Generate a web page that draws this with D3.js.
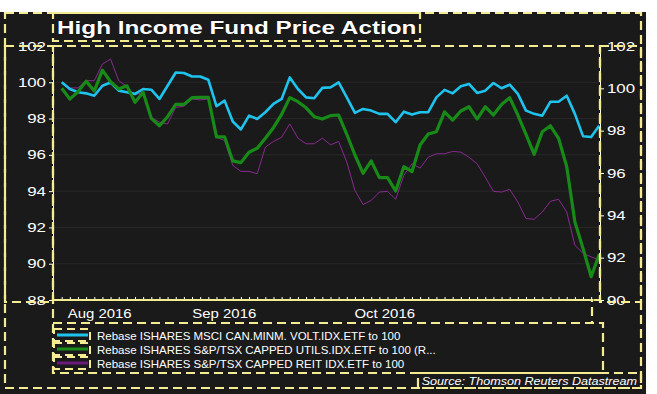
<!DOCTYPE html>
<html>
<head>
<meta charset="utf-8">
<script src="https://cdn.jsdelivr.net/npm/d3@7/dist/d3.min.js"></script>
<style>
  body { margin: 0; background: #fff; }
  svg text { font-family: "Liberation Sans", Arial, sans-serif; fill: #fff; }
</style>
</head>
<body>
<svg id="chart"></svg>
<script>
const minVol = [100, 99.63, 99.45, 99.39, 99.26, 99.81, 99.99, 99.54, 99.45, 99.36, 99.63, 99.59, 99.08, 99.81, 100.54, 100.51, 100.32,
  100.32, 100.14, 98.68, 98.99, 97.84, 97.40, 98.16, 97.98, 98.35, 98.81, 99.08, 100.27, 99.63, 99.17, 99.12, 99.69, 99.72,
  99.99, 99.17, 98.31, 98.53, 98.44, 98.26, 98.26, 97.80, 98.38, 98.22, 98.35, 98.35, 99.17, 99.58, 99.39, 99.78,
  99.91, 99.41, 99.54, 99.96, 99.67, 99.87, 99.36, 98.44, 98.26, 98.16, 98.93, 98.93, 99.26, 98.26, 97.03, 96.98, 97.62];
const utils = [100, 99.49, 99.84, 100.34, 99.87, 100.86, 100.31, 99.97, 100.12, 99.34, 99.81, 98.58, 98.23, 98.66, 99.24, 99.24, 99.56,
  99.57, 99.57, 97.71, 97.71, 96.57, 96.49, 96.98, 97.17, 97.64, 98.14, 98.77, 99.56, 99.37, 99.08, 98.66, 98.55, 98.71,
  98.74, 97.83, 96.85, 95.98, 96.57, 95.78, 95.78, 95.15, 96.30, 96.06, 97.32, 97.84, 97.95, 98.89, 98.50, 98.93,
  99.13, 98.55, 99.13, 98.74, 99.24, 99.56, 98.74, 97.83, 96.88, 97.95, 98.23, 97.64, 96.30, 93.70, 92.44, 91.10, 92.16];
const reit = [100, 99.69, 99.69, 100.09, 100.09, 101.01, 101.28, 100.09, 99.77, 99.30, 99.45, 98.07, 97.80, 97.71, 98.62, 98.68, 99.08,
  99.03, 99.08, 96.97, 96.79, 95.42, 95.09, 95.09, 94.96, 96.42, 96.74, 96.97, 97.71, 96.92, 96.61, 96.61, 96.92, 96.55,
  96.74, 95.60, 94.04, 93.26, 93.49, 93.95, 93.99, 93.55, 94.87, 95.51, 95.27, 95.87, 96.06, 96.06, 96.19, 96.15,
  95.87, 95.51, 94.77, 93.99, 93.95, 94.10, 93.40, 92.49, 92.45, 92.85, 93.44, 93.55, 92.85, 91.02, 90.57, 90.38, 90.20];

const legendNames = [
  "Rebase ISHARES MSCI CAN.MINM. VOLT.IDX.ETF to 100",
  "Rebase ISHARES S&P/TSX CAPPED UTILS.IDX.ETF to 100 (R...",
  "Rebase ISHARES S&P/TSX CAPPED REIT IDX.ETF to 100"
];
const leftTicks = [88, 90, 92, 94, 96, 98, 100, 102];
const rightTicks = [90, 92, 94, 96, 98, 100, 102];
const monthLabels = ["Aug 2016", "Sep 2016", "Oct 2016"];
const monthStart = [0, 15.3, 35.2]; // observation index where each month label sits

const W = 657, H = 394;
const plot = {left: 53, right: 600, top: 46, bottom: 300};
const yellow = "#f4ec92";
const dash = "9,5";
const stretch = 1.35;

const svg = d3.select("#chart").attr("width", W).attr("height", H);

svg.append("rect").attr("x", 0).attr("y", 12).attr("width", 646).attr("height", H - 12).attr("fill", "#1a1a1a");

const x = d3.scaleLinear().domain([0, minVol.length - 1]).range([61.7, 599.3]);
const yLeft = d3.scaleLinear().domain([88, 102]).range([plot.bottom, plot.top]);
const yRight = d3.scaleLinear().domain([90, 102]).range([plot.bottom, plot.top]);

// faint grid
svg.append("g").selectAll("line")
    .data(leftTicks.slice(1, -1))
    .enter().append("line")
    .attr("x1", plot.left).attr("x2", plot.right)
    .attr("y1", d => yLeft(d)).attr("y2", d => yLeft(d))
    .attr("stroke", "#282828").attr("stroke-width", 1);

const series = [
  {values: reit, y: yLeft, color: "#8a2a92", width: 1},
  {values: minVol, y: yLeft, color: "#1ec4ee", width: 2.6},
  {values: utils, y: yRight, color: "#188a18", width: 3.2}
];

series.forEach(s => {
  const line = d3.line().x((d, i) => x(i)).y(d => s.y(d));
  svg.append("path")
      .datum(s.values)
      .attr("d", line)
      .attr("fill", "none")
      .attr("stroke", s.color)
      .attr("stroke-width", s.width)
      .attr("stroke-linejoin", "round");
});

// axes
const leftAxis = svg.append("g")
    .attr("transform", `translate(${plot.left},0)`)
    .call(d3.axisLeft(yLeft).tickValues(leftTicks).tickSize(4).tickSizeOuter(0));
const rightAxis = svg.append("g")
    .attr("transform", `translate(${plot.right},0)`)
    .call(d3.axisRight(yRight).tickValues(rightTicks).tickSize(4).tickSizeOuter(0));
const bottomAxis = svg.append("g")
    .attr("transform", `translate(0,${plot.bottom})`)
    .call(d3.axisBottom(x).tickValues(d3.range(minVol.length)).tickSize(-3).tickSizeOuter(0).tickFormat(""));

[leftAxis, rightAxis, bottomAxis].forEach(a => {
  a.select(".domain").attr("stroke", "#fff").attr("stroke-width", 1);
  a.selectAll(".tick line").attr("stroke", "#fff");
  a.selectAll("text").attr("fill", "#fff").attr("font-size", 12.5).attr("font-family", null);
});
bottomAxis.select(".domain").attr("d", `M${plot.left},0H${plot.right}`);

leftAxis.selectAll(".tick text")
    .attr("x", -7 / stretch)
    .attr("transform", `scale(${stretch},1)`);
rightAxis.selectAll(".tick text")
    .attr("x", 7 / stretch)
    .attr("transform", `scale(${stretch},1)`);

// month labels
svg.append("g").selectAll("text")
    .data(monthLabels)
    .enter().append("text")
    .attr("transform", (d, i) => `translate(${x(monthStart[i]) + 6},318) scale(1.15,1)`)
    .attr("font-size", 13)
    .text(d => d);

// title
svg.append("text")
    .attr("transform", `translate(57,34) scale(${stretch},1)`)
    .attr("font-size", 18)
    .attr("font-weight", "bold")
    .attr("stroke", "#000").attr("stroke-width", 0.6).attr("paint-order", "stroke")
    .text("High Income Fund Price Action");

// legend
const legendColors = ["#1ec4ee", "#188a18", "#6a1a7a"];
const legend = svg.append("g").selectAll("g")
    .data(legendNames)
    .enter().append("g")
    .attr("transform", (d, i) => `translate(0,${335 + i * 14})`);
legend.append("rect")
    .attr("x", 54).attr("y", -6).attr("width", 36).attr("height", 12)
    .attr("fill", "none").attr("stroke", yellow).attr("stroke-width", 2).attr("stroke-dasharray", "8,5");
legend.append("line")
    .attr("x1", 57).attr("x2", 88)
    .attr("stroke", (d, i) => legendColors[i]).attr("stroke-width", 3);
legend.append("text")
    .attr("x", 97).attr("y", 4.5)
    .attr("font-size", 11.5)
    .text(d => d);

// source
svg.append("text")
    .attr("transform", "translate(637,385) scale(1.2,1)")
    .attr("text-anchor", "end")
    .attr("font-size", 10.5)
    .attr("font-style", "italic")
    .attr("fill", "#d8d8d8")
    .text("Source: Thomson Reuters Datastream");

// dashed annotation boxes
const boxes = [
  [5, 13, 641, 388],
  [53, 13, 420, 41],
  [5, 46, 53, 302],
  [53, 46, 600, 300],
  [600, 46, 641, 302],
  [53, 300, 592, 323],
  [53, 323, 603, 373],
  [418, 373, 641, 388]
];
svg.append("g").selectAll("rect")
    .data(boxes)
    .enter().append("rect")
    .attr("x", d => d[0]).attr("y", d => d[1])
    .attr("width", d => d[2] - d[0]).attr("height", d => d[3] - d[1])
    .attr("fill", "none")
    .attr("stroke", yellow)
    .attr("stroke-width", 2.2)
    .attr("stroke-dasharray", dash);
</script>
</body>
</html>
